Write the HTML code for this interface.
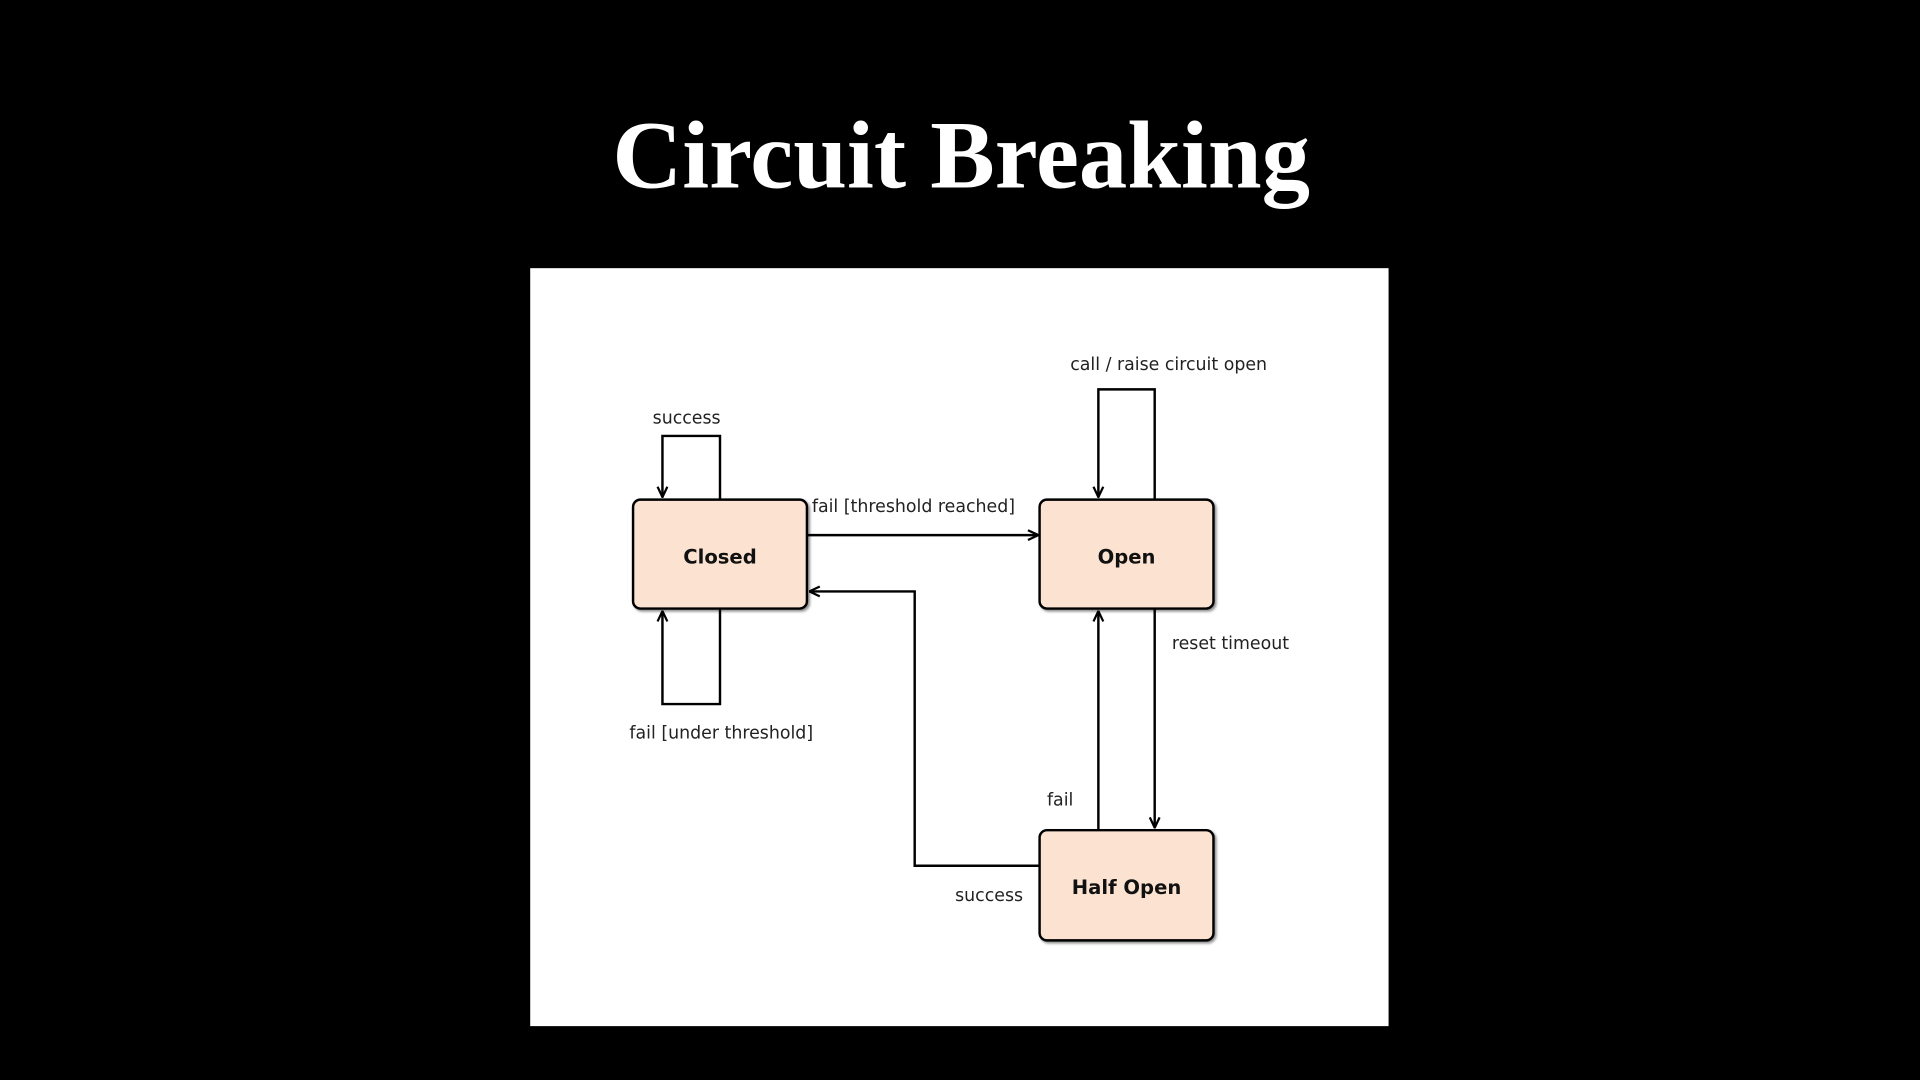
<!DOCTYPE html>
<html><head><meta charset="utf-8"><style>
html,body{margin:0;padding:0;background:#000;width:1920px;height:1080px;overflow:hidden}
svg{display:block}
</style></head><body>
<svg width="1920" height="1080" viewBox="0 0 1568 882" preserveAspectRatio="none" xmlns="http://www.w3.org/2000/svg">
<rect width="1568" height="882" fill="#000"/>
<text x="785" y="153" text-anchor="middle" font-family="Liberation Serif, serif" font-weight="bold" font-size="79" fill="#fff">Circuit Breaking</text>
<rect x="433" y="219" width="701" height="619" fill="#fff"/>
<defs>
<filter id="sh" x="-10%" y="-10%" width="130%" height="130%"><feDropShadow dx="1.5" dy="1.5" stdDeviation="1" flood-color="#000" flood-opacity="0.45"/></filter>
<marker id="a" viewBox="0 0 10 10" refX="9.5" refY="5" markerWidth="10" markerHeight="10" markerUnits="userSpaceOnUse" orient="auto">
<path d="M1,1 L9.5,5 L1,9" fill="none" stroke="#000" stroke-width="1.8"/></marker>
</defs>
<g fill="none" stroke="#000" stroke-width="2">
<polyline points="588,408 588,356 541,356 541,406" marker-end="url(#a)"/>
<polyline points="588,497 588,575 541,575 541,499" marker-end="url(#a)"/>
<polyline points="659,437 848,437" marker-end="url(#a)"/>
<polyline points="943,408 943,318 897,318 897,406" marker-end="url(#a)"/>
<polyline points="943,497 943,676" marker-end="url(#a)"/>
<polyline points="897,678 897,499" marker-end="url(#a)"/>
<polyline points="849,707 747,707 747,483 661,483" marker-end="url(#a)"/>
</g>
<g fill="#fce3d1" stroke="#000" stroke-width="2" filter="url(#sh)">
<rect x="517" y="408" width="142" height="89" rx="6"/>
<rect x="849" y="408" width="142" height="89" rx="6"/>
<rect x="849" y="678" width="142" height="90" rx="6"/>
</g>
<g font-family="DejaVu Sans, Liberation Sans, sans-serif" font-weight="bold" font-size="16" fill="#111" text-anchor="middle">
<text x="588" y="460">Closed</text>
<text x="920" y="460">Open</text>
<text x="920" y="730">Half Open</text>
</g>
<g font-family="DejaVu Sans, Liberation Sans, sans-serif" font-size="14.2" fill="#222">
<text x="533" y="346">success</text>
<text x="663" y="418">fail [threshold reached]</text>
<text x="514" y="603">fail [under threshold]</text>
<text x="874" y="302">call / raise circuit open</text>
<text x="957" y="530">reset timeout</text>
<text x="855" y="658">fail</text>
<text x="780" y="736">success</text>
</g>
</svg>
</body></html>
